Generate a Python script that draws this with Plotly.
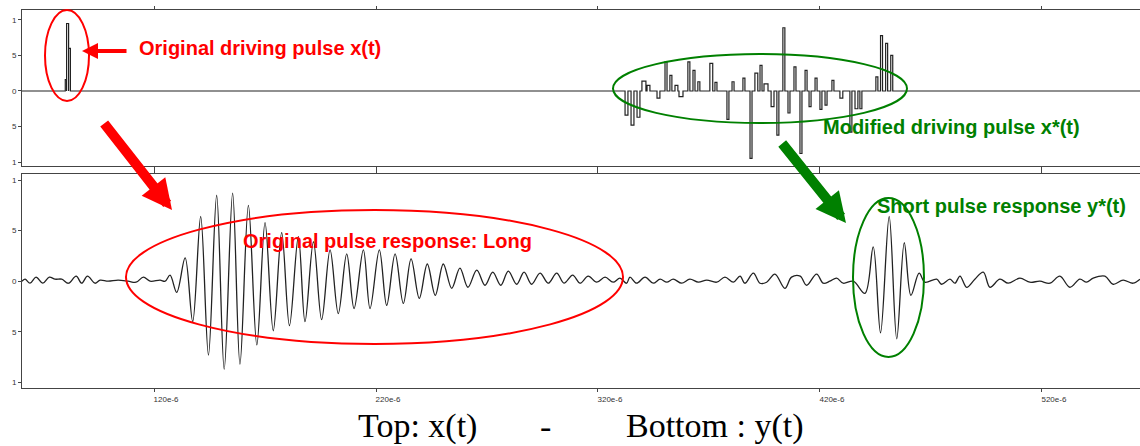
import plotly.graph_objects as go

# ---------------- data (time in microseconds, amplitude normalised) ----------------
# Top trace x(t): rectangular pulses (start time, width, amplitude)
pulse_t = [80.0, 80.6, 81.5,
           332.2, 334.9, 337.6, 339.8, 342.1, 346.6, 350.2, 352.4, 354.7, 356.5,
           360.5, 362.8, 365.0, 370.4, 372.7, 378.1, 380.4, 385.3, 388.5, 390.7,
           393.0, 394.8, 398.0, 400.6, 403.3, 405.6, 408.3, 411.0, 413.3, 415.1,
           417.8, 420.0, 422.3, 425.4, 429.0, 433.5, 435.8, 438.0, 445.2, 447.3,
           449.6, 451.9]
pulse_w = [0.6, 0.9, 0.8,
           1.3, 1.3, 1.3, 1.8, 1.3, 1.3, 0.9, 0.9, 1.3, 1.8,
           0.9, 0.9, 0.9, 1.3, 0.9, 0.9, 0.9, 0.9, 0.9, 1.3,
           0.9, 1.8, 1.3, 0.9, 0.9, 0.9, 0.9, 0.9, 0.9, 0.9,
           0.9, 0.9, 0.9, 0.9, 1.3, 0.9, 1.3, 0.9, 0.9, 0.9,
           0.9, 0.9]
pulse_a = [0.16, 0.95, 0.60,
           -0.34, -0.48, -0.37, 0.14, 0.08, -0.10, 0.41, 0.22, 0.08, -0.08,
           0.41, 0.29, 0.13, 0.39, 0.12, -0.40, 0.13, 0.18, -0.95, 0.25,
           0.36, 0.10, -0.22, -0.62, 0.89, -0.31, 0.34, -0.88, 0.29, -0.22,
           0.18, -0.26, -0.20, 0.15, -0.10, -0.58, -0.25, -0.25, 0.20, 0.78,
           0.67, 0.50]

# Bottom trace y(t): successive extrema
resp_t = [60.5, 61.9, 64.1, 66.8, 69.9, 72.8, 75.4, 78.4, 81.4, 84.9, 87.4, 90.0, 93.4,
          95.7, 99.3, 103.8, 108.3, 111.9, 115.2, 118.2, 122.7, 125.0, 127.2, 130.2,
          134.0, 137.4, 141.0, 144.5, 148.2, 151.6, 155.4, 158.7, 162.5, 166.3, 170.0,
          173.7, 177.5, 181.0, 185.0, 188.0, 191.8, 195.5, 199.3, 203.0, 206.8, 210.1,
          214.3, 217.3, 221.5, 224.8, 228.6, 232.3, 235.8, 239.5, 243.1, 246.7, 250.3,
          254.1, 257.8, 261.4, 265.4, 269.1, 272.6, 276.2, 279.6, 283.4, 286.7, 290.1,
          293.9, 297.6, 301.4, 304.7, 308.6, 311.9, 315.6, 319.4, 323.2, 326.8, 329.9,
          332.9, 334.4, 337.4, 341.2, 344.9, 348.0, 351.0, 353.9, 357.7, 361.4, 365.2,
          369.0, 373.5, 377.2, 381.0, 384.0, 386.2, 390.0, 393.0, 396.0, 399.7, 404.2,
          407.2, 411.1, 414.0, 418.5, 421.5, 424.5, 427.5, 430.5, 435.0, 440.3, 444.0,
          447.3, 451.2, 454.6, 458.0, 461.0, 464.7, 467.3, 472.6, 474.8, 478.6, 480.8,
          483.1, 486.1, 489.8, 493.6, 496.6, 501.1, 504.8, 510.1, 514.6, 519.1, 523.6,
          528.1, 532.6, 537.1, 540.1, 543.1, 548.4, 552.1, 556.6, 561.1, 564.2]
resp_a = [0.0, 0.02, -0.02, 0.04, -0.02, 0.04, 0.02, 0.02, -0.02, 0.05, -0.02, 0.05, -0.02,
          0.01, 0.0, 0.01, 0.0, -0.01, 0.04, 0.0, 0.01, 0.0, 0.06, -0.11,
          0.23, -0.40, 0.64, -0.73, 0.85, -0.87, 0.87, -0.82, 0.75, -0.63, 0.58,
          -0.49, 0.48, -0.44, 0.44, -0.40, 0.39, -0.38, 0.31, -0.32, 0.27, -0.27,
          0.31, -0.27, 0.31, -0.24, 0.27, -0.22, 0.22, -0.17, 0.17, -0.14, 0.17,
          -0.07, 0.13, -0.06, 0.11, -0.04, 0.09, -0.04, 0.10, -0.03, 0.09, -0.03,
          0.08, -0.02, 0.08, -0.02, 0.06, -0.02, 0.05, -0.01, 0.04, -0.01, 0.03,
          -0.02, 0.04, -0.02, 0.04, -0.02, 0.02, -0.01, 0.02, -0.02, 0.02, -0.01,
          0.01, -0.01, 0.04, -0.01, 0.05, -0.02, 0.08, -0.02, -0.01, 0.07, -0.07,
          0.04, 0.05, -0.04, 0.07, -0.02, 0.0, 0.03, -0.02, 0.0, -0.12, 0.34,
          -0.51, 0.64, -0.57, 0.38, -0.14, 0.08, -0.01, 0.02, -0.03, 0.02, -0.02,
          0.05, -0.06, 0.02, 0.09, -0.06, 0.02, -0.02, 0.03, -0.01, 0.0, -0.02,
          0.05, -0.06, 0.02, -0.01, 0.03, 0.05, -0.03, 0.01, -0.02, 0.02]

x_ticks = [120, 220, 320, 420, 520]
x_tick_labels = ["120e-6", "220e-6", "320e-6", "420e-6", "520e-6"]
y_ticks = [-1, -0.5, 0, 0.5, 1]
y_tick_labels = ["1", "5", "0", "5", "1"]

# ---------------- build step trace for x(t) ----------------
tx, ty = [resp_t[0]], [0.0]
for t, w, a in zip(pulse_t, pulse_w, pulse_a):
    tx += [t, t + w]
    ty += [a, 0.0]
tx.append(resp_t[-1]); ty.append(0.0)

fig = go.Figure()
fig.add_trace(go.Scatter(x=tx, y=ty, mode="lines", line=dict(color="#222", width=1.2, shape="hv"),
                         xaxis="x2", yaxis="y2", showlegend=False, hoverinfo="skip"))
fig.add_trace(go.Scatter(x=resp_t, y=resp_a, mode="lines",
                         line=dict(color="#222", width=1.3, shape="spline", smoothing=1.0),
                         xaxis="x", yaxis="y", showlegend=False, hoverinfo="skip"))

W, H = 1140, 446
L, R, T, B = 22, 0, 10, 58
pw, ph = W - L - R, H - T - B


def px(x):
    return (x - L) / pw


def py(y):
    return (H - B - y) / ph


axis_common = dict(showgrid=False, zeroline=False, showline=True, linecolor="#444", linewidth=1,
                   ticks="outside", ticklen=3, tickcolor="#444", automargin=False,
                   tickfont=dict(family="Arial", size=8, color="#333"))

fig.update_layout(
    width=W, height=H, margin=dict(l=L, r=R, t=T, b=B, autoexpand=False),
    paper_bgcolor="white", plot_bgcolor="white",
    xaxis=dict(domain=[0, 1], anchor="y", range=[60.5, 564.2], tickvals=x_ticks, ticktext=x_tick_labels,
               mirror="ticks", ticklabelshift=12, **axis_common),
    yaxis=dict(domain=[0, py(174)], anchor="x", range=[-1.056, 1.06], tickvals=y_ticks,
               ticktext=y_tick_labels, **axis_common),
    xaxis2=dict(domain=[0, 1], anchor="y2", matches="x", tickvals=x_ticks, showticklabels=False,
                mirror="ticks", **axis_common),
    yaxis2=dict(domain=[py(166), 1], anchor="x2", range=[-1.056, 1.14], tickvals=y_ticks,
                ticktext=y_tick_labels, **axis_common),
)

RED, GREEN = "#ff0000", "#008000"

shapes = [
    dict(type="circle", xref="paper", yref="paper", x0=px(45), x1=px(89), y0=py(101), y1=py(10),
         line=dict(color=RED, width=2)),
    dict(type="circle", xref="paper", yref="paper", x0=px(126), x1=px(623), y0=py(344), y1=py(210),
         line=dict(color=RED, width=2)),
    dict(type="circle", xref="paper", yref="paper", x0=px(613), x1=px(907), y0=py(123), y1=py(54),
         line=dict(color=GREEN, width=2)),
    dict(type="circle", xref="paper", yref="paper", x0=px(853), x1=px(924), y0=py(357), y1=py(198),
         line=dict(color=GREEN, width=2)),
]
fig.update_layout(shapes=shapes)

lab_font = dict(family="Liberation Sans, Arial", size=20)
serif = dict(family="Liberation Serif", size=34, color="black")
ann = [
    dict(x=px(137), y=py(48), text="<b>Original driving pulse x(t)</b>", font=dict(color=RED, **lab_font)),
    dict(x=px(241), y=py(241), text="<b>Original pulse response: Long</b>", font=dict(color=RED, **lab_font)),
    dict(x=px(821), y=py(127), text="<b>Modified driving pulse x*(t)</b>", font=dict(color=GREEN, **lab_font)),
    dict(x=px(875), y=py(206), text="<b>Short pulse response y*(t)</b>", font=dict(color=GREEN, **lab_font)),
    dict(x=px(356), y=py(426), text="Top: x(t)", font=serif),
    dict(x=px(538), y=py(426), text="-", font=serif),
    dict(x=px(624), y=py(426), text="Bottom : y(t)", font=serif),
]
for a in ann:
    a.update(xref="paper", yref="paper", xanchor="left", yanchor="middle", showarrow=False)

arrows = [
    dict(x=px(82), y=py(51), ax=46, ay=0, color=RED, w=4, s=0.8),
    dict(x=px(172), y=py(210), ax=-69, ay=-88, color=RED, w=10, s=0.6),
    dict(x=px(846), y=py(223), ax=-65, ay=-81, color=GREEN, w=10, s=0.6),
]
for a in arrows:
    ann.append(dict(x=a["x"], y=a["y"], xref="paper", yref="paper", ax=a["ax"], ay=a["ay"],
                    text="", showarrow=True, arrowhead=2, arrowsize=a["s"], arrowwidth=a["w"],
                    arrowcolor=a["color"]))
fig.update_layout(annotations=ann)

fig.write_html("out.html", config={"displayModeBar": False},
               post_script="document.body.style.margin='0';document.body.style.overflow='hidden';")
